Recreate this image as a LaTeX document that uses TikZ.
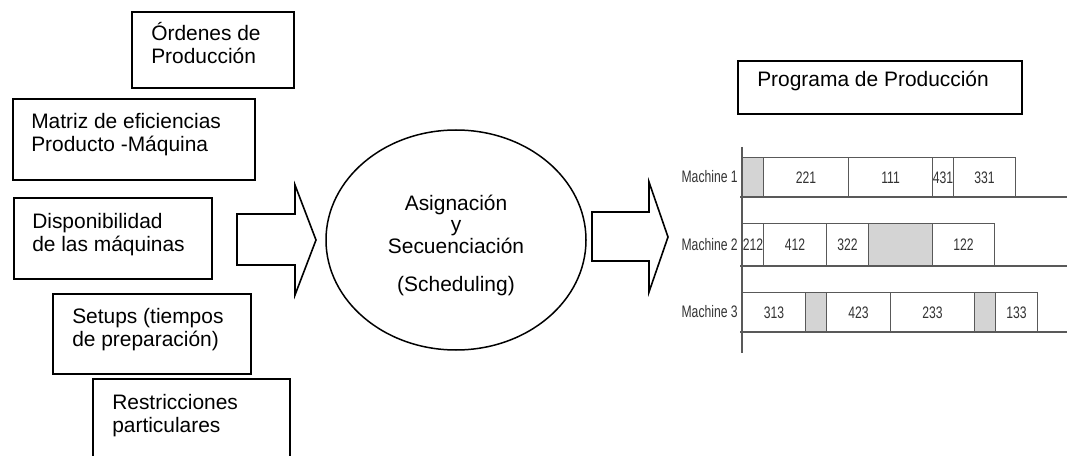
\documentclass[tikz,border=0pt]{standalone}
\usepackage{fontspec}
\setmainfont{Liberation Sans}
\usetikzlibrary{shapes.geometric, positioning}
\newcommand{\pxu}{0.75pt}
\newcommand{\ganttnum}[1]{\scalebox{0.73}[1]{#1}}
\tikzset{
    inbox/.style={draw, line width=2*\pxu, rectangle, inner sep=0pt, anchor=north west},
    boxtext/.style={inner sep=0pt, anchor=north west, align=left, font=\fontsize{15.7}{17.3}\selectfont},
    bigarrow/.style={draw, line width=1.6*\pxu, fill=white, line join=miter},
    bar/.style={draw=black!65, line width=1.1*\pxu, inner sep=0pt, anchor=north west, text=black!80, font=\fontsize{12.5}{14}\selectfont},
    idle/.style={bar, fill=black!17},
    ganttlbl/.style={inner sep=0pt, anchor=east, text=black!80, font=\fontsize{12.5}{14}\selectfont},
    axisline/.style={draw=black!65, line width=1.1*\pxu}
}

\begin{document}
\begin{tikzpicture}[x=0.75pt, y=-0.75pt]
    \useasboundingbox (0,0) rectangle (1067,456);
    % entradas
    \node[inbox, minimum width=162*\pxu, minimum height=76*\pxu] (orders) at (131,11) {};
    \node[inbox, minimum width=242*\pxu, minimum height=81*\pxu] (matrix) at (12,98) {};
    \node[inbox, minimum width=198*\pxu, minimum height=81*\pxu] (avail) at (13,197) {};
    \node[inbox, minimum width=198*\pxu, minimum height=80*\pxu] (setups) at (52,293) {};
    \node[inbox, minimum width=197*\pxu, minimum height=90*\pxu] (restr) at (92,378) {};
    \node[boxtext] (orderstxt) at (151,22.5) {Órdenes de\\Producción};
    \node[boxtext] (matrixtxt) at (31,113) {Matriz de eficiencias\\Producto -Máquina};
    \node[boxtext] (availtxt) at (32,213) {Disponibilidad\\de las máquinas};
    \node[boxtext] (setupstxt) at (72,308) {Setups (tiempos\\de preparación)};
    \node[boxtext] (restrtxt) at (112,394) {Restricciones\\particulares};
    % flechas
    \draw[bigarrow] (237,214) -- (295,214) -- (295,185) -- (316,240) -- (295,295) -- (295,265) -- (237,265) -- cycle;
    \draw[bigarrow] (592,212) -- (649,212) -- (649,182) -- (668,237) -- (649,292) -- (649,261) -- (592,261) -- cycle;
    % scheduling
    \node[draw, ellipse, line width=1.5*\pxu, inner sep=0pt, minimum width=260*\pxu, minimum height=220*\pxu] (sched) at (456,240) {};
    \node[inner sep=0pt, align=center, font=\fontsize{15.7}{16.1}\selectfont] (schedtxt) at (456,245)
        {Asignación\\y\\Secuenciación\\[12.4pt](Scheduling)};
    % salida
    \node[inbox, minimum width=284*\pxu, minimum height=53*\pxu] (prog) at (737,60) {};
    \node[inner sep=0pt, anchor=base west, font=\fontsize{15.7}{17.3}\selectfont] (progtxt) at (757,87) {Programa de Producción};
    % gantt
    \draw[axisline] (742,147) -- (742,353);
    \foreach \yt/\yb/\cells [count=\r] in {
        157/197/{742/763//idle, 763/848/221/bar, 848/932/111/bar, 932/953/431/bar, 953/1015/331/bar},
        223/266/{742/763/212/bar, 763/826/412/bar, 826/868/322/bar, 868/932//idle, 932/994/122/bar},
        292/332/{742/805/313/bar, 805/826//idle, 826/890/423/bar, 890/974/233/bar, 974/995//idle, 995/1037/133/bar}}
    {
        \foreach \a/\b/\t/\s [count=\c] in \cells
            \node[\s, minimum width={(\b-\a)*\pxu}, minimum height={(\yb-\yt)*\pxu}] (bar\r-\c) at (\a,\yt) {\ganttnum{\t}};
        \draw[axisline] (740,\yb) -- (1067,\yb);
        \node[ganttlbl] (mach\r) at (738,{(\yt+\yb)/2}) {\ganttnum{Machine \r}};
    }
\end{tikzpicture}
\end{document}
